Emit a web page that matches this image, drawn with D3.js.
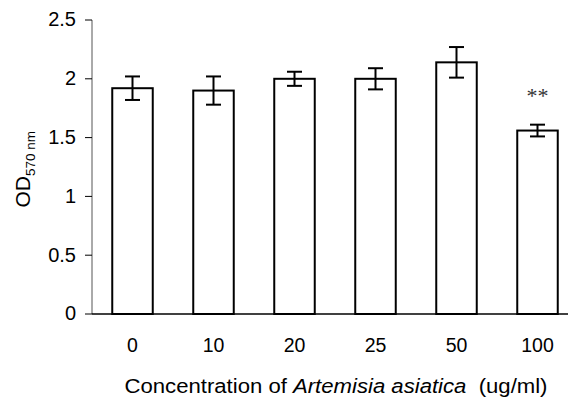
<!DOCTYPE html>
<html>
<head>
<meta charset="utf-8">
<script src="https://cdnjs.cloudflare.com/ajax/libs/d3/7.8.5/d3.min.js"></script>
<style>
  body { margin: 0; background: #fff; }
  text { font-family: "Liberation Sans", Arial, sans-serif; fill: #000; }
</style>
</head>
<body>
<div id="chart"></div>
<script>
// concentrations (ug/ml)
var categories = ["0", "10", "20", "25", "50", "100"];
// mean OD570 and error
var means  = [1.92, 1.90, 2.00, 2.00, 2.14, 1.56];
var errors = [0.10, 0.12, 0.06, 0.09, 0.13, 0.05];
var marks  = ["", "", "", "", "", "**"];
var yTicks = [0, 0.5, 1, 1.5, 2, 2.5];

var w = 568,
    h = 400;

var svg = d3.select("#chart").append("svg").attr("width", w).attr("height", h);

var x = d3.scaleBand().domain(categories).range([92, 578]).paddingInner(0.5).paddingOuter(0.25);
var y = d3.scaleLinear().domain([0, 2.5]).range([314, 20]);

// y axis
svg.append("line").attr("x1", 92).attr("x2", 92).attr("y1", y(2.5)).attr("y2", y(0))
  .attr("stroke", "#555").attr("stroke-width", 1);
svg.selectAll(".ytick").data(yTicks).enter().append("line")
  .attr("x1", 85).attr("x2", 92)
  .attr("y1", function(d) { return y(d); }).attr("y2", function(d) { return y(d); })
  .attr("stroke", "#000").attr("stroke-width", 1);
svg.selectAll(".ylab").data(yTicks).enter().append("text")
  .attr("x", 76).attr("y", function(d) { return y(d); })
  .attr("dy", "0.32em").attr("text-anchor", "end").style("font-size", "20px")
  .text(function(d) { return d; });

// bars
var bars = svg.append("g");
bars.selectAll("rect").data(means).enter().append("rect")
  .attr("x", function(d, i) { return x(categories[i]); })
  .attr("width", x.bandwidth())
  .attr("y", function(d) { return y(d); })
  .attr("height", function(d) { return y(0) - y(d); })
  .attr("fill", "#fff").attr("stroke", "#000").attr("stroke-width", 2);

// error bars
var cx = function(i) { return x(categories[i]) + x.bandwidth() / 2; };
var err = svg.append("g").attr("stroke", "#000").attr("stroke-width", 2);
means.forEach(function(m, i) {
  var c = cx(i), top = y(m + errors[i]), bot = y(m - errors[i]);
  err.append("line").attr("x1", c).attr("x2", c).attr("y1", top).attr("y2", bot);
  err.append("line").attr("x1", c - 7.5).attr("x2", c + 7.5).attr("y1", top).attr("y2", top);
  err.append("line").attr("x1", c - 7.5).attr("x2", c + 7.5).attr("y1", bot).attr("y2", bot);
});

// significance
svg.selectAll(".sig").data(marks).enter().append("text")
  .attr("x", function(d, i) { return cx(i); })
  .attr("y", function(d, i) { return y(means[i] + errors[i]) - 22; })
  .attr("text-anchor", "middle")
  .style("font-family", "'Liberation Serif', 'Times New Roman', serif").style("font-size", "22px")
  .style("fill", "#333")
  .text(function(d) { return d; });

// x axis
svg.append("line").attr("x1", 92).attr("x2", w).attr("y1", y(0)).attr("y2", y(0))
  .attr("stroke", "#000").attr("stroke-width", 1.5);
svg.selectAll(".xlab").data(categories).enter().append("text")
  .attr("x", function(d, i) { return cx(i); }).attr("y", 352)
  .attr("text-anchor", "middle").style("font-size", "19.5px")
  .text(function(d) { return d; });

// x title
var xt = svg.append("text").attr("x", 336).attr("y", 393).attr("text-anchor", "middle")
  .style("font-size", "20px").style("white-space", "pre");
xt.append("tspan").text("Concentration of ");
xt.append("tspan").style("font-style", "italic").text("Artemisia asiatica");
xt.append("tspan").text("  (ug/ml)");
xt.attr("textLength", 423).attr("lengthAdjust", "spacingAndGlyphs");

// y title
var yl = svg.append("g").attr("transform", "translate(29.5,207.5) rotate(-90)");
yl.append("text").style("font-size", "21px").text("OD");
yl.append("text").attr("x", 31.5).attr("y", 5.5).style("font-size", "13.5px").text("570 nm");
</script>
</body>
</html>
